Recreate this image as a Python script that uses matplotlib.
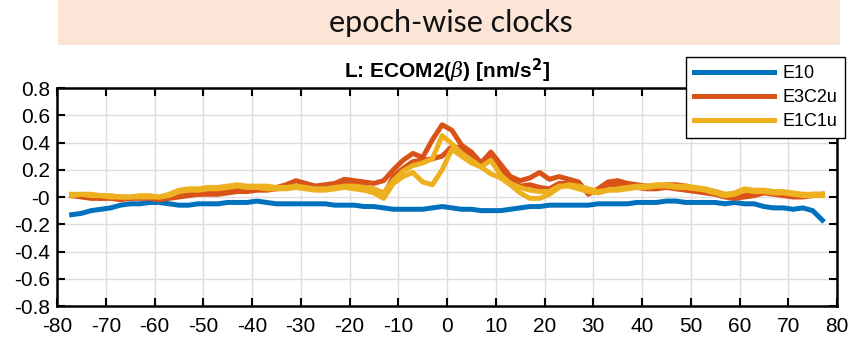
import numpy as np
import matplotlib
matplotlib.use('Agg')
import matplotlib.pyplot as plt
from matplotlib.patches import Rectangle
from matplotlib.ticker import FuncFormatter

plt.rcParams['font.family'] = ['Liberation Sans', 'DejaVu Sans']
plt.rcParams['axes.unicode_minus'] = False
plt.rcParams['mathtext.fontset'] = 'custom'
plt.rcParams['mathtext.it'] = 'DejaVu Serif:italic'

# argument of latitude [deg]
lat = list(range(-77, 78, 2))

e10 = [-0.13, -0.12, -0.10, -0.09, -0.08, -0.06, -0.05, -0.05, -0.04, -0.04,
       -0.05, -0.06, -0.06, -0.05, -0.05, -0.05, -0.04, -0.04, -0.04, -0.03,
       -0.04, -0.05, -0.05, -0.05, -0.05, -0.05, -0.05, -0.06, -0.06, -0.06,
       -0.07, -0.07, -0.08, -0.09, -0.09, -0.09, -0.09, -0.08, -0.07, -0.08,
       -0.09, -0.09, -0.10, -0.10, -0.10, -0.09, -0.08, -0.07, -0.07, -0.06,
       -0.06, -0.06, -0.06, -0.06, -0.05, -0.05, -0.05, -0.05, -0.04, -0.04,
       -0.04, -0.03, -0.03, -0.04, -0.04, -0.04, -0.04, -0.05, -0.04, -0.05,
       -0.05, -0.07, -0.08, -0.08, -0.09, -0.08, -0.10, -0.17]

e3c2u_a = [0.01, 0.01, 0.00, -0.01, 0.00, 0.00, -0.01, 0.00, 0.00, -0.01,
           0.00, 0.01, 0.02, 0.02, 0.03, 0.03, 0.04, 0.05, 0.05, 0.06,
           0.06, 0.07, 0.09, 0.12, 0.10, 0.08, 0.09, 0.10, 0.13, 0.12,
           0.11, 0.10, 0.12, 0.20, 0.27, 0.32, 0.29, 0.42, 0.53, 0.49,
           0.38, 0.33, 0.25, 0.33, 0.24, 0.15, 0.12, 0.14, 0.18, 0.13,
           0.15, 0.13, 0.11, 0.02, 0.06, 0.11, 0.12, 0.10, 0.09, 0.08,
           0.08, 0.09, 0.09, 0.08, 0.06, 0.05, 0.04, 0.02, 0.00, 0.01,
           0.02, 0.04, 0.03, 0.02, 0.01, 0.01, 0.02, 0.02]

e3c2u_b = [0.01, 0.00, -0.01, -0.01, -0.01, -0.02, -0.01, -0.01, -0.01, -0.02,
           -0.01, 0.00, 0.01, 0.02, 0.02, 0.02, 0.03, 0.04, 0.04, 0.05,
           0.05, 0.06, 0.07, 0.08, 0.07, 0.06, 0.07, 0.08, 0.10, 0.09,
           0.08, 0.05, 0.01, 0.15, 0.21, 0.26, 0.27, 0.28, 0.30, 0.37,
           0.36, 0.31, 0.24, 0.30, 0.20, 0.12, 0.08, 0.09, 0.07, 0.06,
           0.10, 0.10, 0.08, 0.03, 0.05, 0.09, 0.09, 0.08, 0.07, 0.06,
           0.06, 0.07, 0.06, 0.05, 0.04, 0.03, 0.02, 0.00, -0.01, 0.00,
           0.01, 0.03, 0.02, 0.01, 0.00, 0.00, 0.01, 0.02]

e1c1u_a = [0.02, 0.02, 0.02, 0.01, 0.01, 0.00, 0.00, 0.01, 0.01, 0.00,
           0.02, 0.05, 0.06, 0.06, 0.07, 0.07, 0.08, 0.09, 0.08, 0.08,
           0.08, 0.07, 0.07, 0.08, 0.07, 0.06, 0.06, 0.07, 0.08, 0.08,
           0.07, 0.06, 0.03, 0.12, 0.19, 0.23, 0.25, 0.28, 0.45, 0.39,
           0.32, 0.27, 0.22, 0.17, 0.14, 0.09, 0.03, -0.01, -0.01, 0.02,
           0.07, 0.09, 0.08, 0.06, 0.04, 0.05, 0.06, 0.07, 0.08, 0.08,
           0.09, 0.09, 0.08, 0.08, 0.07, 0.06, 0.04, 0.02, 0.03, 0.06,
           0.05, 0.05, 0.04, 0.04, 0.03, 0.02, 0.02, 0.02]

e1c1u_b = [0.01, 0.02, 0.01, 0.01, 0.00, 0.00, 0.00, 0.00, 0.00, 0.00,
           0.01, 0.04, 0.05, 0.05, 0.06, 0.06, 0.07, 0.08, 0.07, 0.07,
           0.06, 0.06, 0.06, 0.07, 0.06, 0.05, 0.05, 0.06, 0.07, 0.06,
           0.05, 0.03, -0.01, 0.10, 0.15, 0.18, 0.11, 0.09, 0.20, 0.35,
           0.30, 0.25, 0.22, 0.27, 0.16, 0.10, 0.07, 0.05, 0.04, 0.04,
           0.08, 0.08, 0.06, 0.04, 0.03, 0.05, 0.05, 0.06, 0.07, 0.07,
           0.08, 0.08, 0.07, 0.07, 0.06, 0.05, 0.03, 0.01, 0.02, 0.05,
           0.04, 0.04, 0.03, 0.03, 0.02, 0.01, 0.01, 0.01]

blue = '#0072BD'
orange = '#D95319'
yellow = '#EDB120'

fig = plt.figure(figsize=(8.51, 3.44), dpi=100)

# peach banner with the slide heading
fig.patches.append(Rectangle((58 / 851, 1 - 45 / 344), 782 / 851, 45 / 344,
                             transform=fig.transFigure, facecolor='#FBE5D6',
                             edgecolor='none', zorder=0))
fig.text(451 / 851, 1 - 23 / 344, 'epoch-wise clocks', family='Lato',
         fontsize=22, ha='center', va='center', color='#111111')

ax = fig.add_axes([57 / 851, 1 - 306 / 344, 780 / 851, 218 / 344])

lw = 3.6
ax.plot(lat, e10, color=blue, lw=lw, label='E10')
ax.plot(lat, e3c2u_a, color=orange, lw=lw, label='E3C2u')
ax.plot(lat, e3c2u_b, color=orange, lw=lw)
ax.plot(lat, e1c1u_b, color=yellow, lw=lw)
ax.plot(lat, e1c1u_a, color=yellow, lw=lw, label='E1C1u')

ax.set_xlim(-80, 80)
ax.set_ylim(-0.8, 0.8)
ax.set_xticks(np.arange(-80, 81, 10))
ax.set_yticks(np.arange(-0.8, 0.81, 0.2))
ax.yaxis.set_major_formatter(FuncFormatter(lambda v, p: '%g' % round(v, 1)))
ax.tick_params(direction='in', length=6, width=1.5, labelsize=15,
               top=True, right=True)
ax.tick_params(axis='x', pad=8)
ax.tick_params(axis='y', pad=5)
ax.grid(True, color='#dddddd', lw=1)
ax.set_axisbelow(True)
for s in ax.spines.values():
    s.set_linewidth(1.8)

ax.set_title(r'L: ECOM2($\beta$) [nm/s$^\mathbf{2}$]', fontsize=15,
             fontweight='bold', pad=7)

leg = fig.legend(loc='upper right', bbox_to_anchor=(845 / 851, 1 - 57 / 344),
                 bbox_transform=fig.transFigure, fontsize=13, handlelength=4.4,
                 handletextpad=0.45, labelspacing=0.38, borderpad=0.45,
                 fancybox=False, framealpha=1, edgecolor='black', borderaxespad=0)
leg.get_frame().set_linewidth(1)

fig.savefig('out.png', dpi=100)
